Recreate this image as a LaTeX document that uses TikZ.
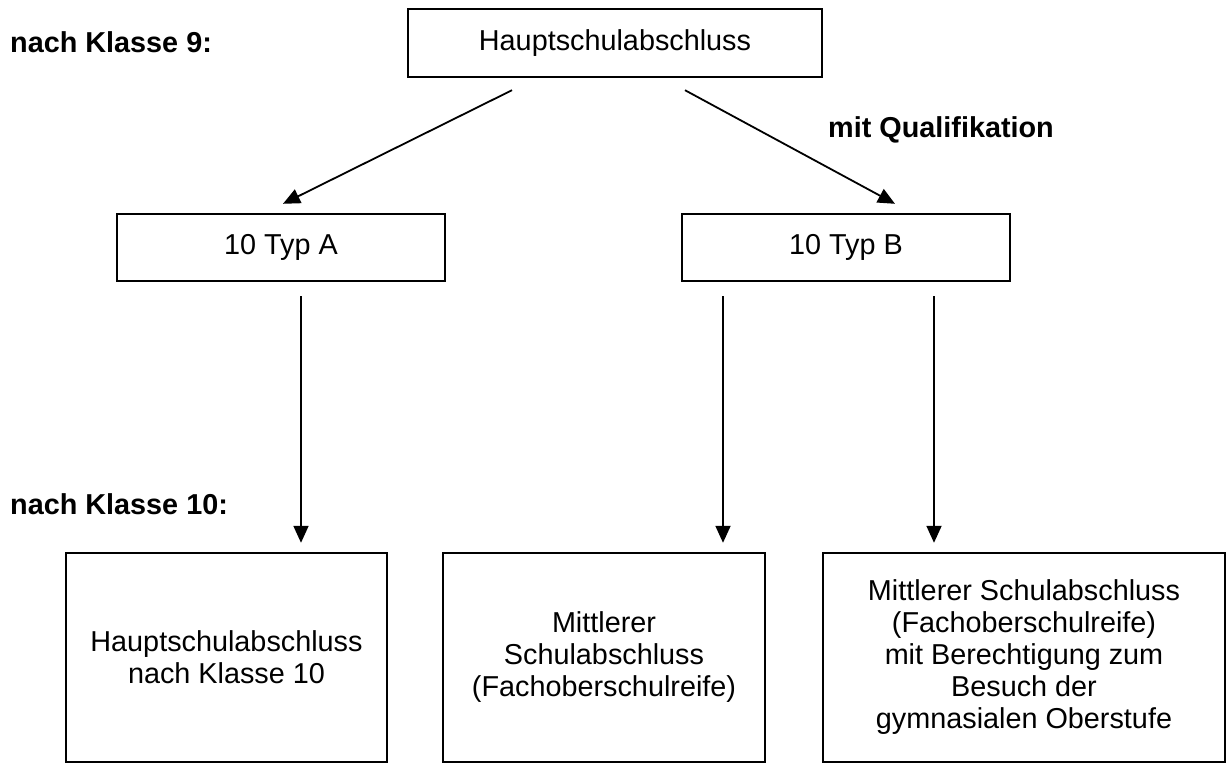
\documentclass[tikz,border=0pt]{standalone}
\usepackage{fontspec}
\setmainfont{Liberation Sans}
\usetikzlibrary{arrows.meta}
\begin{document}
\begin{tikzpicture}[x=1pt,y=-1pt,
  box/.style={draw,line width=2.4pt,rectangle,inner sep=0pt,align=center,
    font=\fontsize{28.8}{32}\selectfont},
  lbl/.style={inner sep=0pt,font=\bfseries\fontsize{28.8}{32}\selectfont,anchor=base west},
  arr/.style={line width=1.8pt,-{Triangle[length=17pt,width=15pt]}}]
\useasboundingbox (0,0) rectangle (1228,765);
\node[box,minimum width=414pt,minimum height=68pt] (top) at (615,43) {Hauptschulabschluss};
\node[box,minimum width=328pt,minimum height=67pt] (typA) at (281,247.5) {10 Typ A};
\node[box,minimum width=328pt,minimum height=67pt] (typB) at (846,247.5) {10 Typ B};
\node[box,minimum width=321pt,minimum height=209pt] (endA) at (226.5,657.5) {Hauptschulabschluss\\nach Klasse 10};
\node[box,minimum width=322pt,minimum height=209pt] (endM) at (604,657.5) {Mittlerer\\Schulabschluss\\(Fachoberschulreife)};
\node[box,minimum width=402pt,minimum height=209pt] (endR) at (1024,657.5) {Mittlerer Schulabschluss\\(Fachoberschulreife)\\mit Berechtigung zum\\Besuch der\\gymnasialen Oberstufe};
\node[lbl] (k9) at (10,53) {nach Klasse 9:};
\node[lbl] (k10) at (10,514) {nach Klasse 10:};
\node[lbl] (qual) at (828,137) {mit Qualifikation};
\draw[arr] ([xshift=-103pt,yshift=-12pt]top.south) -- ([xshift=2pt,yshift=9pt]typA.north);
\draw[arr] ([xshift=70pt,yshift=-12pt]top.south) -- ([xshift=49pt,yshift=9pt]typB.north);
\draw[arr] ([xshift=20pt,yshift=-14pt]typA.south) -- ([xshift=74.5pt,yshift=9pt]endA.north);
\draw[arr] ([xshift=-123pt,yshift=-14pt]typB.south) -- ([xshift=119pt,yshift=9pt]endM.north);
\draw[arr] ([xshift=88pt,yshift=-14pt]typB.south) -- ([xshift=-90pt,yshift=9pt]endR.north);
\end{tikzpicture}
\end{document}
